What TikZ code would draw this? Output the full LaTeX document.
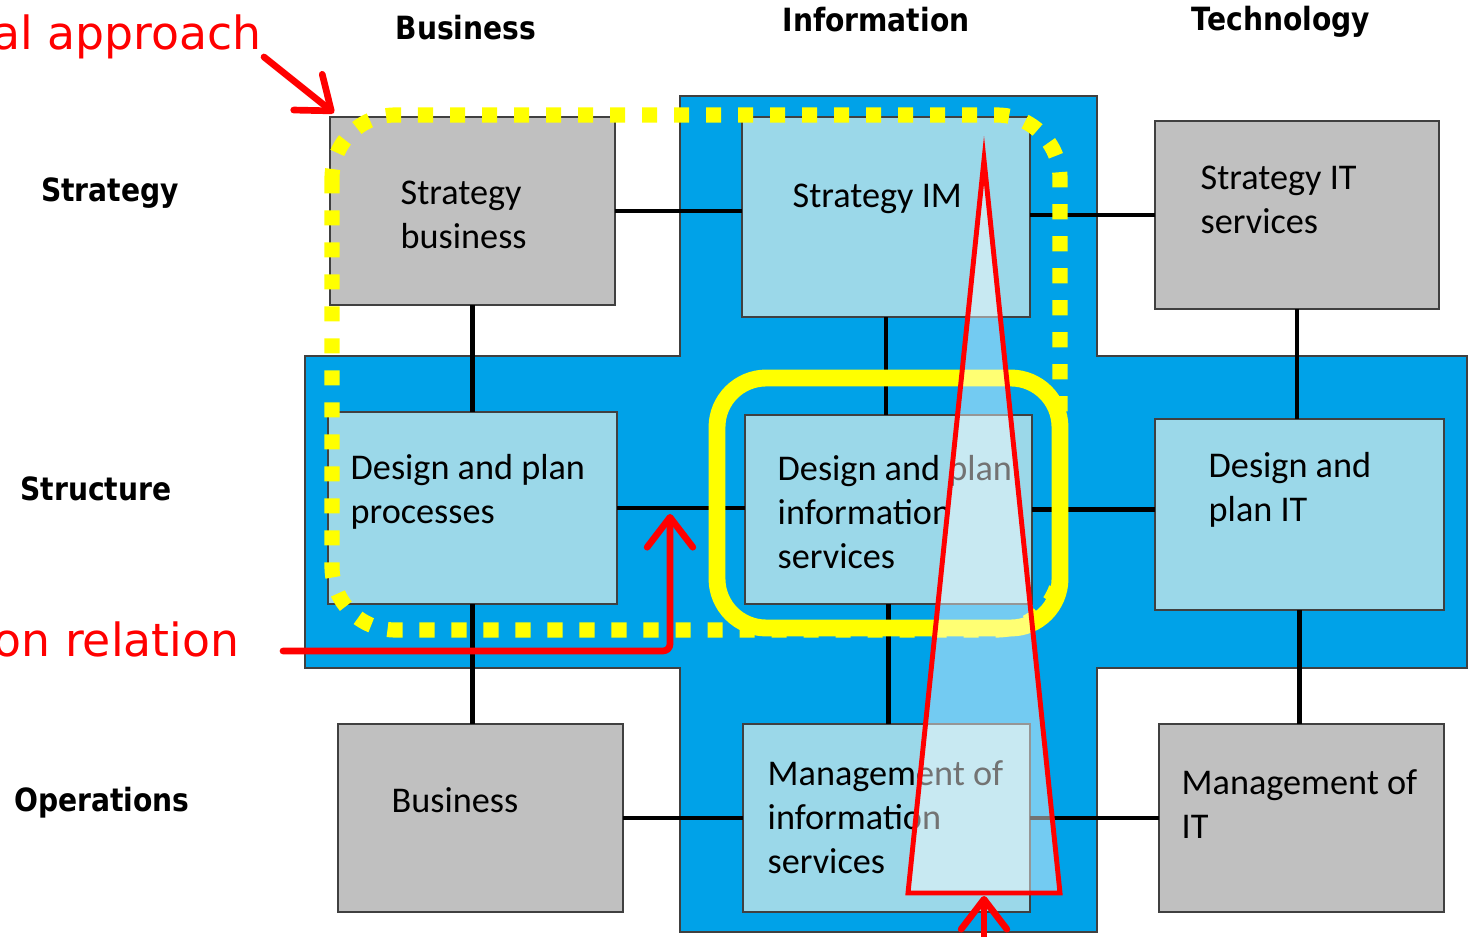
\documentclass[tikz,border=0pt]{standalone}
\usepackage{fontspec}
\setmainfont{Carlito}
\newfontfamily\headfont{DejaVu Sans}[FakeStretch=0.88]
\newfontfamily\notefont{DejaVu Sans}
\usetikzlibrary{arrows.meta}

\definecolor{crossblue}{RGB}{0,162,232}
\definecolor{cellblue}{RGB}{155,216,233}
\definecolor{cellgrey}{RGB}{192,192,192}
\definecolor{edgegrey}{RGB}{64,64,64}
\definecolor{hiyellow}{RGB}{255,255,0}
\definecolor{markred}{RGB}{255,0,0}

\tikzset{
  greybox/.style={draw=edgegrey,line width=0.6pt,fill=cellgrey,inner sep=0pt,outer sep=0pt},
  bluebox/.style={greybox,fill=cellblue},
  celltext/.style={anchor=west,align=left,inner sep=0pt,font=\fontsize{10.3}{12.5}\selectfont},
  headtext/.style={inner sep=0pt,font=\headfont\bfseries\fontsize{9.1}{11}\selectfont},
  redtext/.style={inner sep=0pt,text=markred,font=\notefont\fontsize{13}{16}\selectfont},
  link/.style={line width=1.4pt},
  redarrow/.style={draw=markred,line width=1.9pt,line cap=round,line join=round,-{Straight Barb[length=8.5pt,width=13pt,round]}},
  dotring/.style={draw=hiyellow,line width=4.3pt,dash pattern=on 4.3pt off 4.8pt,rounded corners=18pt},
  solidring/.style={draw=hiyellow,line width=4.8pt,rounded corners=14pt},
  beam/.style={draw=markred,line width=1.4pt,fill=white,fill opacity=0.45}
}

\begin{document}
\begin{tikzpicture}[x=0.01cm,y=-0.01cm]
\useasboundingbox (0,0) rectangle (1472,937);
\clip (0,0) rectangle (1472,937);

% blue cross behind the information column and structure row
\draw[edgegrey,line width=0.6pt,fill=crossblue] (680,96) -- (1097,96) -- (1097,356) -- (1467,356)
  -- (1467,668) -- (1097,668) -- (1097,932) -- (680,932) -- (680,668) -- (305,668)
  -- (305,356) -- (680,356) -- cycle;

% the nine cells
\node[greybox,minimum width=2.85cm,minimum height=1.88cm] (sbus) at (472.5,211) {};
\node[bluebox,minimum width=2.88cm,minimum height=2.00cm] (sim) at (886,217) {};
\node[greybox,minimum width=2.84cm,minimum height=1.88cm] (sit) at (1297,215) {};
\node[bluebox,minimum width=2.89cm,minimum height=1.92cm] (dpp) at (472.5,508) {};
\node[bluebox,minimum width=2.87cm,minimum height=1.89cm] (dpi) at (888.5,509.5) {};
\node[bluebox,minimum width=2.89cm,minimum height=1.91cm] (dpit) at (1299.5,514.5) {};
\node[greybox,minimum width=2.85cm,minimum height=1.88cm] (obus) at (480.5,818) {};
\node[bluebox,minimum width=2.87cm,minimum height=1.88cm] (mis) at (886.5,818) {};
\node[greybox,minimum width=2.85cm,minimum height=1.88cm] (mit) at (1301.5,818) {};

% links between cells
\draw[link] (sbus.east) -- (sbus.east -| sim.west);
\draw[link] (sit.west) -- (sit.west -| sim.east);
\draw[link] (dpp.east) -- (dpp.east -| dpi.west);
\draw[link] (dpi.east) -- (dpi.east -| dpit.west);
\draw[link] (obus.east) -- (obus.east -| mis.west);
\draw[link] (mis.east) -- (mis.east -| mit.west);
\draw[link] (sbus.south) -- (sbus.south |- dpp.north);
\draw[link] (dpp.south) -- (dpp.south |- obus.north);
\draw[link] (sim.south) -- (sim.south |- dpi.north);
\draw[link] (dpi.south) -- (dpi.south |- mis.north);
\draw[link] (sit.south) -- (sit.south |- dpit.north);
\draw[link] (dpit.south) -- (dpit.south |- mit.north);

\node[celltext] (sbust) at (400,215) {Strategy\\business};
\node[celltext] (simt) at (792,199) {Strategy IM};
\node[celltext] (sitt) at (1200,200) {Strategy IT\\services};
\node[celltext] (dppt) at (350,492) {Design and plan\\processes};
\node[celltext] (dpis) at (777,512) {Design and plan\\information\\services};
\node[celltext] (dpitt) at (1208,490) {Design and\\plan IT};
\node[celltext] (obust) at (391,800) {Business};
\node[celltext] (mist) at (767,817) {Management of\\information\\services};
\node[celltext] (mitt) at (1181,804) {Management of\\IT};

% column and row heads
\node[headtext] (hbus) at (466,28) {Business};
\node[headtext] (hinf) at (876,20) {Information};
\node[headtext] (htec) at (1281,22) {Technology};
\node[headtext] (rstr) at (110,193) {Strategy};
\node[headtext] (rstc) at (96,489) {Structure};
\node[headtext] (rops) at (102,803) {Operations};

% yellow marks
\draw[dotring] (332,115) rectangle (1060,630);
\draw[solidring] (717,378) rectangle (1060,628);

% red beam
\draw[beam] (984,160) -- (1060,893) -- (908,893) -- cycle;

% red notes
\node[redtext,anchor=base east] (approach) at (262,50) {al approach};
\node[redtext,anchor=base east] (relation) at (240,657) {on relation};
\coordinate (approachfoot) at (264,57);
\draw[redarrow] (approachfoot) -- ([shift={(4,-4)}]sbus.north west);
\coordinate (relationfoot) at (283,651);
\coordinate (relationtip) at (670,514);
\draw[redarrow,rounded corners=2pt] (relationfoot) -- (relationfoot -| relationtip) -- (relationtip);
\coordinate (beamfoot) at (984,945);
\coordinate (beambase) at (984,896);
\draw[redarrow] (beamfoot) -- (beambase);
\end{tikzpicture}
\end{document}
